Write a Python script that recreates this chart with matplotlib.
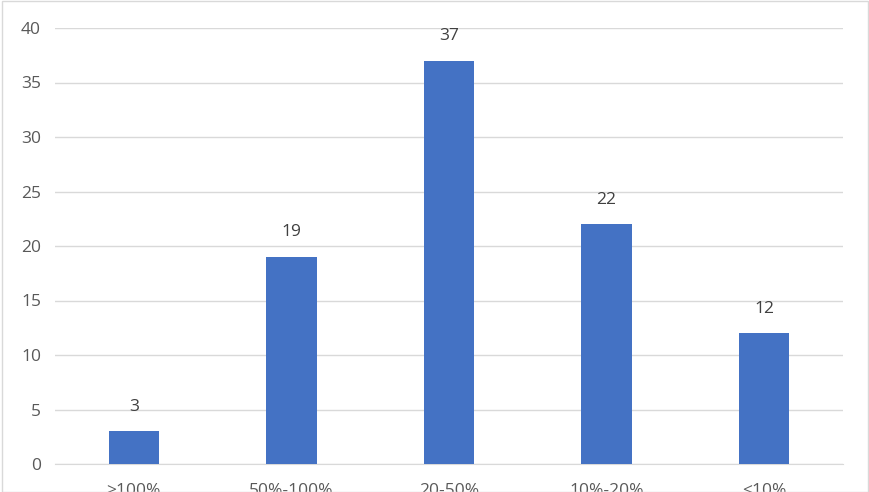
import matplotlib
matplotlib.use("Agg")
import matplotlib.pyplot as plt
from matplotlib.patches import Rectangle

categories = [">100%", "50%-100%", "20-50%", "10%-20%", "<10%"]
values = [3, 19, 37, 22, 12]
yticks = [0, 5, 10, 15, 20, 25, 30, 35, 40]

plt.rcParams['font.family'] = ['Open Sans', 'DejaVu Sans']

fig = plt.figure(figsize=(8.7, 4.92), dpi=100)
ax = fig.add_axes([55/870, 28/492, 788/870, 436/492])

x = list(range(len(categories)))
bars = ax.bar(x, values, width=0.32, color="#4472C4", zorder=3)
for xi, v in zip(x, values):
    ax.annotate(str(v), (xi, v), xytext=(0, 12), textcoords="offset points",
                ha="center", va="bottom", fontsize=12.5, color="#404040")

ax.set_xlim(-0.5, len(categories) - 0.5)
ax.set_ylim(0, 40)
ax.set_yticks(yticks)
ax.set_xticks(x)
ax.set_xticklabels(categories)
ax.grid(axis="y", color="#d9d9d9", linewidth=1, zorder=0)
for s in ["top", "right", "left"]:
    ax.spines[s].set_visible(False)
ax.spines["bottom"].set_color("#d9d9d9")
ax.tick_params(axis="y", length=0, pad=10, labelsize=12.5, labelcolor="#595959")
ax.tick_params(axis="x", length=0, pad=14, labelsize=12.5, labelcolor="#595959")

fig.patches.append(Rectangle((0.002, 0.0), 0.996, 0.997, transform=fig.transFigure,
                             fill=False, edgecolor="#d9d9d9", linewidth=1))

fig.savefig("out.png", dpi=100)
